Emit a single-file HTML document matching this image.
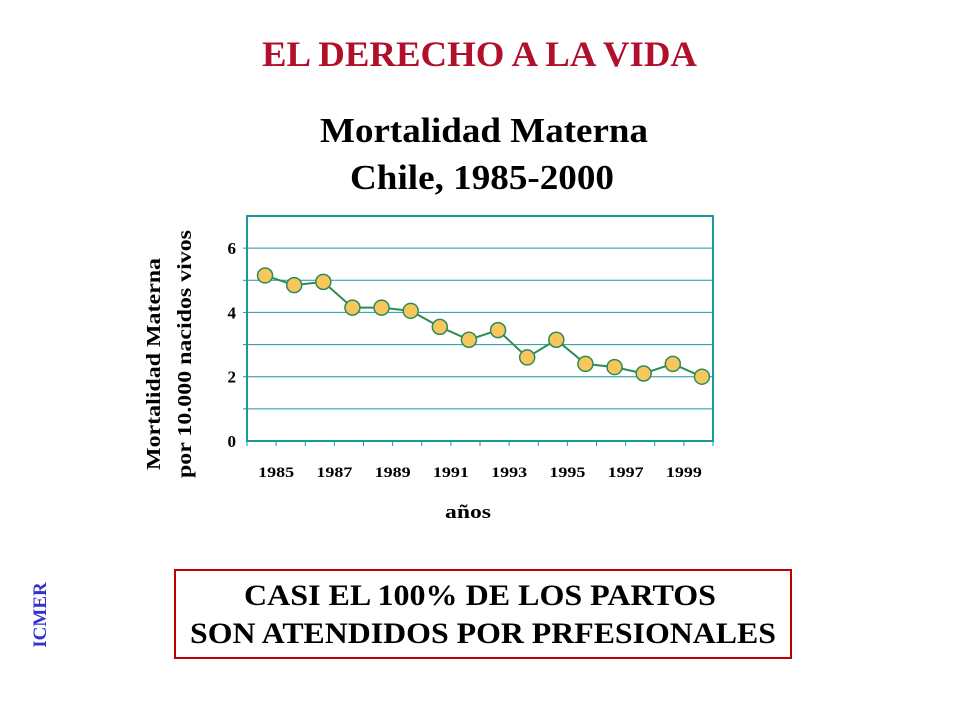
<!DOCTYPE html>
<html><head><meta charset="utf-8">
<style>
body{margin:0;width:960px;height:720px;background:#fff;overflow:hidden;font-family:"Liberation Serif",serif;}
</style></head>
<body>
<svg width="960" height="720" style="position:absolute;left:0;top:0">
<text x="262" y="66" textLength="435" lengthAdjust="spacingAndGlyphs" font-size="36" font-weight="bold" fill="#b0102a">EL DERECHO A LA VIDA</text>
<text x="320" y="142" textLength="328" lengthAdjust="spacingAndGlyphs" font-size="35" font-weight="bold" fill="#000">Mortalidad Materna</text>
<text x="350" y="189" textLength="264" lengthAdjust="spacingAndGlyphs" font-size="35" font-weight="bold" fill="#000">Chile, 1985-2000</text>
<g id="chart"></g>
<text transform="translate(160,470) rotate(-90)" textLength="212" lengthAdjust="spacingAndGlyphs" font-size="20" font-weight="bold">Mortalidad Materna</text>
<text transform="translate(191,478) rotate(-90)" textLength="248" lengthAdjust="spacingAndGlyphs" font-size="20" font-weight="bold">por 10.000 nacidos vivos</text>
<text x="445" y="518" textLength="46" lengthAdjust="spacingAndGlyphs" font-size="19" font-weight="bold">años</text>
<rect x="175" y="570" width="616" height="88" fill="none" stroke="#c00000" stroke-width="2"/>
<text x="244" y="605" textLength="472" lengthAdjust="spacingAndGlyphs" font-size="30" font-weight="bold">CASI EL 100% DE LOS PARTOS</text>
<text x="190" y="643" textLength="586" lengthAdjust="spacingAndGlyphs" font-size="30" font-weight="bold">SON ATENDIDOS POR PRFESIONALES</text>
<text transform="translate(46,615) rotate(-90)" text-anchor="middle" font-size="19" font-weight="bold" fill="#3333cc">ICMER</text>
</svg>
<script>
const years=[1985,1986,1987,1988,1989,1990,1991,1992,1993,1994,1995,1996,1997,1998,1999,2000];
const values=[5.15,4.85,4.95,4.15,4.15,4.05,3.55,3.15,3.45,2.6,3.15,2.4,2.3,2.1,2.4,2.0];
const yTicks=[0,2,4,6];
const xLabels=[1985,1987,1989,1991,1993,1995,1997,1999];
const NS="http://www.w3.org/2000/svg";
const g=document.getElementById('chart');
const L=247,R=713,T=216,B=441,yMax=7;
const bw=(R-L)/years.length;
const y=v=>B-v/yMax*(B-T);
const x=i=>L+bw*(i+0.62);
function mk(t,a){const e=document.createElementNS(NS,t);for(const k in a)e.setAttribute(k,a[k]);g.appendChild(e);return e;}
for(let v=1;v<yMax;v++){const e=mk('line',{x1:L,x2:R,y1:y(v),y2:y(v),stroke:'#1a9a9a','stroke-width':1});


const t=mk('line',{x1:L-4,x2:L,y1:y(v),y2:y(v),stroke:'#1a9a9a'});

}
const box=mk('rect',{x:L,y:T,width:R-L,height:B-T,fill:'none',stroke:'#1a9a9a','stroke-width':2});


for(let i=0;i<=years.length;i++){const t=mk('line',{x1:L+bw*i,x2:L+bw*i,y1:B,y2:B+5,stroke:'#1a9a9a'});

}
yTicks.forEach(v=>{const t=mk('text',{x:L-11,y:y(v)+6,'text-anchor':'end','font-size':17,'font-weight':'bold'});t.textContent=v;

});
xLabels.forEach(yr=>{const i=years.indexOf(yr);const t=mk('text',{x:L+bw*(i+1)-18,y:477,textLength:36,lengthAdjust:'spacingAndGlyphs','font-size':15,'font-weight':'bold'});t.textContent=yr;

});
const pl=mk('polyline',{points:values.map((v,i)=>x(i)+','+y(v)).join(' '),fill:'none',stroke:'#2e8b57','stroke-width':2});


values.forEach((v,i)=>{const c=mk('circle',{cx:x(i),cy:y(v),r:7.5,fill:'#f7c75e',stroke:'#2e8b57','stroke-width':1.5});

});
</script>
</body></html>
